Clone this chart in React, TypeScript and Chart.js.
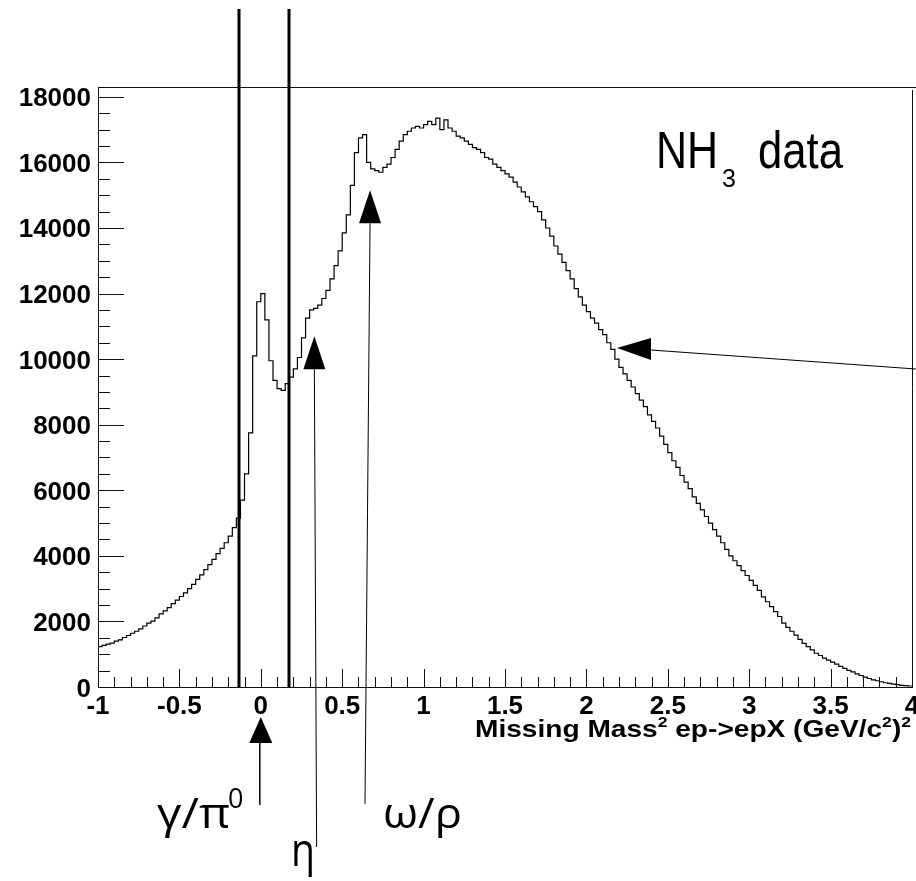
import { useEffect, useRef } from "react";
import { Chart, registerables } from "chart.js";

Chart.register(...registerables);

// Histogram: Missing Mass^2 ep->epX, bins of 0.025 starting at -1
const binStart = -1.0;
const binWidth = 0.025;

const countsTail = [
  1230, 1270, 1310, 1340, 1400, 1440, 1510, 1570, 1640, 1700,
  1770, 1860, 1950, 2010, 2110, 2230, 2320, 2420, 2540, 2650,
  2760, 2870, 3000, 3130, 3280, 3420, 3580, 3730, 3890, 4070,
  4230, 4400, 4600, 4860, 5150,
];
const countsPeaks = [
  5700, 6500, 7750, 10100, 11750, 12000, 11200, 9950, 9350, 9100,
  9050, 9250, 9450, 9700, 10050, 10650, 11250, 11500, 11550, 11650,
  11850, 12100, 12450, 12850, 13300, 13850, 14400, 15300, 16300, 16750,
  16850,
];
const countsPlateau = [
  16000, 15800, 15750, 15700, 15850, 15950, 16150, 16400, 16650, 16850,
  16950, 17050, 17100, 17050, 17150, 17250, 17150, 17350, 17000, 17300,
  17050, 16950, 16800, 16750, 16650, 16550, 16450, 16400, 16300, 16150,
  16100, 15950, 15850, 15750, 15650, 15550, 15400, 15250, 15100, 14950,
  14800, 14650, 14500,
];
const countsFall = [
  14250, 14000, 13750, 13450, 13200, 12950, 12700, 12450, 12150, 11900,
  11650, 11450, 11250, 11100, 10900, 10750, 10500, 10300, 10000, 9750,
  9550, 9350, 9150, 8950, 8750, 8550, 8300, 8100, 7900, 7650,
  7400, 7150, 6900, 6700, 6450, 6250, 6050, 5800, 5600, 5400,
  5200, 5000, 4800, 4600, 4400, 4200, 4000, 3850, 3700, 3550,
  3400, 3250, 3100, 2950, 2750, 2600, 2450, 2300, 2150, 1950,
  1820, 1700, 1580, 1450, 1330, 1230, 1130, 1030, 960, 880,
  820, 760, 700, 630, 570, 510, 460, 400, 350, 300,
  260, 220, 190, 160, 130, 110, 90, 70, 50, 40,
  30,
];
const counts = [...countsTail, ...countsPeaks, ...countsPlateau, ...countsFall];

const xTickLabels = ["-1", "-0.5", "0", "0.5", "1", "1.5", "2", "2.5", "3", "3.5", "4"];
const yTickLabels = ["0", "2000", "4000", "6000", "8000", "10000", "12000", "14000", "16000", "18000"];
const xMin = -1;
const xMax = 4;
const yMax = 18300;

// selection cut lines (x values)
const cutValues = [-0.134, 0.171];

// annotation arrows: x value of tip, y value of tip
const etaArrow = { x: 0.329, y: 10700, xEnd: 0.343 };
const omegaArrow = { x: 0.671, y: 15150, xEnd: 0.64 };
const curveArrow = { x: 2.188, y: 10340 };
const gammaArrow = { x: 0 };

const histPoints = counts.map((c, i) => ({ x: binStart + i * binWidth, y: c }));
histPoints.push({ x: binStart + counts.length * binWidth, y: counts[counts.length - 1] });

function line(ctx: CanvasRenderingContext2D, x1: number, y1: number, x2: number, y2: number) {
  ctx.beginPath();
  ctx.moveTo(x1, y1);
  ctx.lineTo(x2, y2);
  ctx.stroke();
}

function text(
  ctx: CanvasRenderingContext2D,
  t: string,
  font: string,
  x: number,
  baseline: number,
  opts: { width?: number; sy?: number } = {}
) {
  ctx.save();
  ctx.font = font;
  ctx.textAlign = "left";
  ctx.textBaseline = "alphabetic";
  const w = ctx.measureText(t).width;
  const sx = opts.width ? opts.width / w : 1;
  const sy = opts.sy ?? 1;
  ctx.translate(x, baseline);
  ctx.scale(sx, sy);
  ctx.fillText(t, 0, 0);
  ctx.restore();
}

type Run = { t: string; size: number; dy: number };
function richText(
  ctx: CanvasRenderingContext2D,
  runs: Run[],
  family: string,
  left: number,
  right: number,
  baseline: number
) {
  ctx.save();
  let total = 0;
  for (const r of runs) {
    ctx.font = family.replace("SIZE", String(r.size));
    total += ctx.measureText(r.t).width;
  }
  const sx = (right - left) / total;
  ctx.translate(left, baseline);
  ctx.scale(sx, 1);
  ctx.textAlign = "left";
  ctx.textBaseline = "alphabetic";
  let cx = 0;
  for (const r of runs) {
    ctx.font = family.replace("SIZE", String(r.size));
    ctx.fillText(r.t, cx, r.dy);
    cx += ctx.measureText(r.t).width;
  }
  ctx.restore();
}

const titleRuns: Run[] = [
  { t: "Missing Mass", size: 24, dy: 0 },
  { t: "2", size: 15, dy: -10 },
  { t: " ep->epX (GeV/c", size: 24, dy: 0 },
  { t: "2", size: 15, dy: -10 },
  { t: ")", size: 24, dy: 0 },
  { t: "2", size: 15, dy: -10 },
];

const overlay = {
  id: "overlay",
  afterDraw(chart: any) {
    const { ctx, chartArea: a } = chart;
    const xs = chart.scales.x;
    const ys = chart.scales.y;
    const X = (v: number) => xs.getPixelForValue(v);
    const Y = (v: number) => ys.getPixelForValue(v);
    const r = (v: number) => Math.round(v) + 0.5;
    ctx.save();
    ctx.strokeStyle = "#111";
    ctx.fillStyle = "#000";
    ctx.lineWidth = 1;

    // frame
    line(ctx, a.left, r(a.top), 916, r(a.top));
    line(ctx, r(a.right), a.top + 3, r(a.right), a.bottom);
    line(ctx, r(a.left), a.top, r(a.left), a.bottom + 0.5);
    line(ctx, a.left, r(a.bottom), a.right + 1, r(a.bottom));

    // y ticks
    for (let v = 0; v <= 18000; v += 500) {
      const py = r(Y(v));
      const len = v % 2000 === 0 ? 26 : 12;
      line(ctx, a.left, py, a.left + len, py);
    }
    // x ticks
    for (let i = -10; i <= 40; i++) {
      const px = r(X(i / 10));
      const len = i % 5 === 0 ? 18 : 10;
      line(ctx, px, a.bottom, px, a.bottom - len);
    }

    // tick labels
    ctx.font = 'bold 26px "Liberation Sans"';
    ctx.textAlign = "right";
    ctx.textBaseline = "alphabetic";
    for (const lab of yTickLabels) {
      ctx.fillText(lab, a.left - 7, Y(Number(lab)) + 9.5);
    }
    ctx.textAlign = "center";
    for (const lab of xTickLabels) {
      ctx.fillText(lab, X(Number(lab)), 714);
    }

    // axis title
    richText(ctx, titleRuns, 'bold SIZEpx "Liberation Sans"', 475, 911, 737);

    // cut lines
    ctx.lineWidth = 3;
    ctx.strokeStyle = "#000";
    for (const c of cutValues) {
      const px = Math.round(X(c));
      line(ctx, px, 9, px, a.bottom);
    }

    // arrows
    const upArrow = (tx: number, ty: number, h: number, hw: number) => {
      ctx.beginPath();
      ctx.moveTo(tx, ty);
      ctx.lineTo(tx - hw, ty + h);
      ctx.lineTo(tx + hw, ty + h);
      ctx.closePath();
      ctx.fill();
    };
    // gamma / pi0
    {
      const px = X(gammaArrow.x);
      upArrow(px, a.bottom + 30, 26, 11.5);
      ctx.lineWidth = 1.5;
      line(ctx, px - 1, a.bottom + 56, px - 1, 805);
    }
    // eta
    {
      const px = X(etaArrow.x);
      const py = Y(etaArrow.y);
      upArrow(px, py, 33, 11);
      ctx.lineWidth = 1;
      line(ctx, px, py + 33, X(etaArrow.xEnd), 847);
    }
    // omega / rho
    {
      const px = X(omegaArrow.x);
      const py = Y(omegaArrow.y);
      upArrow(px, py, 33, 11);
      ctx.lineWidth = 1;
      line(ctx, px, py + 33, X(omegaArrow.xEnd), 804);
    }
    // arrow to the curve
    {
      const px = X(curveArrow.x);
      const py = Y(curveArrow.y);
      ctx.beginPath();
      ctx.moveTo(px, py);
      ctx.lineTo(px + 34, py - 10);
      ctx.lineTo(px + 34, py + 12);
      ctx.closePath();
      ctx.fill();
      ctx.lineWidth = 1.2;
      line(ctx, px + 34, py + 2, 916, py + 21);
    }

    // labels
    ctx.fillStyle = "#000";
    text(ctx, "NH", '43px "Liberation Sans"', 656, 168, { sy: 1.19 });
    text(ctx, "3", '25px "Liberation Sans"', 722, 187);
    text(ctx, "data", '43px "Liberation Sans"', 758, 168, { sy: 1.19, width: 85 });

    text(ctx, "γ/π", '42px "Open Sans"', 157, 828, { width: 73 });
    text(ctx, "0", '27px "Open Sans"', 228, 808);
    text(ctx, "η", '46px "Open Sans"', 291, 866, { width: 24 });
    text(ctx, "ω/ρ", '42px "Open Sans"', 383, 828, { width: 79 });

    ctx.restore();
  },
};

export default function App() {
  const ref = useRef<HTMLCanvasElement | null>(null);
  useEffect(() => {
    if (!ref.current) return;
    const chart = new Chart(ref.current, {
      type: "line",
      data: {
        datasets: [
          {
            data: histPoints,
            stepped: true,
            borderColor: "#000",
            borderWidth: 1.2,
            pointRadius: 0,
            fill: false,
          },
        ],
      },
      options: {
        animation: false,
        responsive: false,
        devicePixelRatio: 1,
        layout: { padding: { top: 87, right: 4, left: 0, bottom: 0 } },
        plugins: { legend: { display: false }, tooltip: { enabled: false } },
        scales: {
          x: {
            type: "linear",
            min: xMin,
            max: xMax,
            ticks: { display: false },
            grid: { display: false, drawTicks: false },
            border: { display: false },
            afterFit: (s: any) => {
              s.height = 194;
            },
          },
          y: {
            type: "linear",
            min: 0,
            max: yMax,
            ticks: { display: false },
            grid: { display: false, drawTicks: false },
            border: { display: false },
            afterFit: (s: any) => {
              s.width = 98;
            },
          },
        },
      },
      plugins: [overlay],
    });
    return () => chart.destroy();
  }, []);
  return (
    <canvas
      ref={ref}
      width={916}
      height={881}
      style={{ position: "absolute", left: 0, top: 0, display: "block", background: "#fff" }}
    />
  );
}
